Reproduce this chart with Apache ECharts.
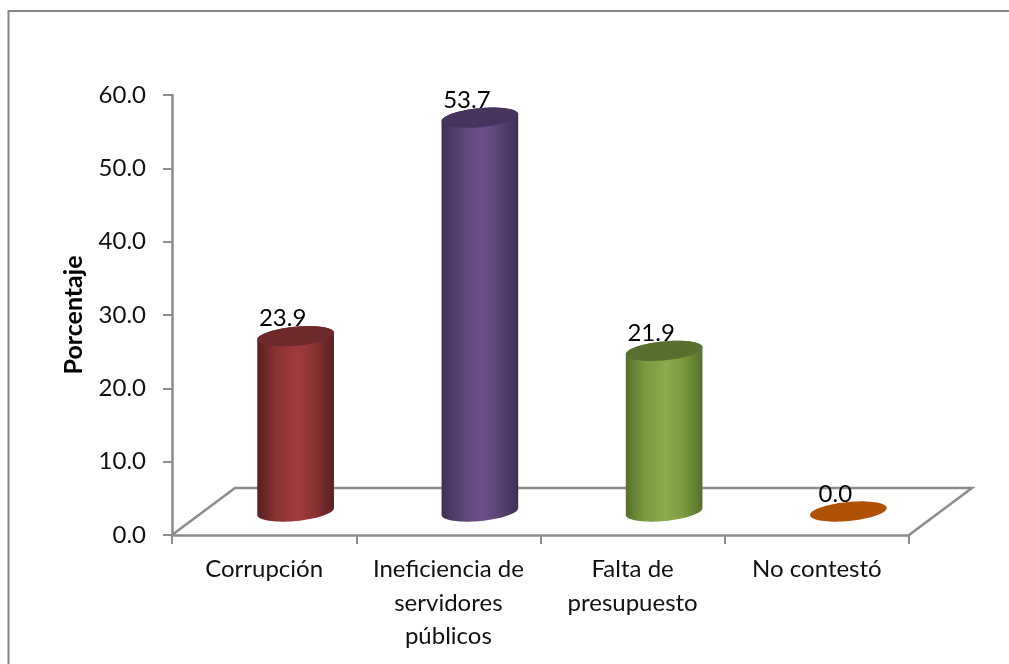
<!DOCTYPE html>
<html><head><meta charset="utf-8">
<style>html,body{margin:0;padding:0;background:#fff}#c{width:1009px;height:664px}</style>
<script src="https://cdn.jsdelivr.net/npm/echarts@6/dist/echarts.min.js"></script>
</head><body><div id="c"></div>
<script>
const categories = ['Corrupción', 'Ineficiencia de\nservidores\npúblicos', 'Falta de\npresupuesto', 'No contestó'];
const values = [23.9, 53.7, 21.9, 0.0];
const yMin = 0, yMax = 60, yStep = 10;
const axisName = 'Porcentaje';
const FONT = 'Lato';
const AXIS = '#8c8c8c';
const palette = [
  {edge:'#562020', side:'#8a3332', mid:'#a13b3a', top:'#6e2a2a'},
  {edge:'#3e2e55', side:'#5a4475', mid:'#6a5088', top:'#46345f'},
  {edge:'#55702a', side:'#7a9a3f', mid:'#8cab4c', top:'#586f2f'},
  {edge:'#b05206', side:'#b05206', mid:'#b05206', top:'#b05206'}
];
const depth = [63, -47];
const RX = 38.5, RY = 9.5, TILT = -5.5 * Math.PI / 180;
function ell(cx, cy, a0, a1, n) {
  const p = [], c = Math.cos(TILT), s = Math.sin(TILT);
  for (let i = 0; i <= n; i++) {
    const t = a0 + (a1 - a0) * i / n, x = RX * Math.cos(t), y = RY * Math.sin(t);
    p.push([cx + x * c - y * s, cy + x * s + y * c]);
  }
  return p;
}
const chart = echarts.init(document.getElementById('c'), null, {renderer: 'canvas'});
chart.setOption({
  animation: false,
  backgroundColor: '#fff',
  graphic: [{type: 'polyline', silent: true, z: 0, shape: {points: [[8.5, 664], [8.5, 11], [1009, 11]]},
    style: {stroke: '#868686', lineWidth: 2, fill: null}}],
  grid: {left: 172, top: 95, width: 737, height: 440, containLabel: false},
  xAxis: {type: 'category', data: categories, boundaryGap: true,
    axisLine: {lineStyle: {color: AXIS, width: 2.5}},
    axisTick: {show: true, length: 9, lineStyle: {color: AXIS, width: 2}},
    axisLabel: {color: '#111', fontFamily: FONT, fontSize: 24, lineHeight: 33.5, margin: 18, interval: 0}},
  yAxis: {type: 'value', min: yMin, max: yMax, interval: yStep,
    name: axisName, nameLocation: 'middle', nameGap: 86, nameRotate: 90,
    nameTextStyle: {color: '#000', fontFamily: FONT, fontWeight: 'bold', fontSize: 25},
    splitLine: {show: false},
    axisLine: {show: true, lineStyle: {color: AXIS, width: 2.5}},
    axisTick: {show: true, length: 9, lineStyle: {color: AXIS, width: 2}},
    axisLabel: {color: '#111', fontFamily: FONT, fontSize: 24, margin: 26, formatter: v => v.toFixed(1)}},
  series: [
    {type: 'custom', z: 1, silent: true, data: [0], encode: {x: 0},
     renderItem(params, api) {
       const band = api.size([1, 0])[0];
       const c0 = api.coord([0, yMin]);
       const o = [c0[0] - band / 2, c0[1]];
       const xs = band * categories.length;
       const a = [o[0], o[1]], b = [o[0] + depth[0], o[1] + depth[1]],
             c = [o[0] + xs + depth[0], o[1] + depth[1]], d = [o[0] + xs, o[1]];
       return {type: 'polyline', shape: {points: [a, b, c, d]},
         style: {stroke: AXIS, lineWidth: 2.5, fill: null}};
     }},
    {type: 'custom', z: 2, silent: true,
     data: values.map((v, i) => [i, v]),
     encode: {x: 0, y: 1},
     renderItem(params, api) {
       const i = api.value(0), v = api.value(1), col = palette[i];
       const base = api.coord([i, 0]), top = api.coord([i, v]);
       const dx = depth[0] / 2, dy = depth[1] / 2;
       const cx = base[0] + dx, by = base[1] + dy, ty = top[1] + dy;
       const children = [];
       if (v > 0) {
         const fill = new echarts.graphic.LinearGradient(cx - RX, 0, cx + RX, 0, [
           {offset: 0, color: col.edge}, {offset: 0.25, color: col.side},
           {offset: 0.52, color: col.mid}, {offset: 0.75, color: col.side}, {offset: 1, color: col.edge}], true);
         const pts = ell(cx, by, 0, Math.PI, 40).concat(ell(cx, ty, Math.PI, 2 * Math.PI, 40));
         children.push({type: 'polygon', shape: {points: pts}, style: {fill}});
       }
       children.push({type: 'polygon', shape: {points: ell(cx, ty, 0, 2 * Math.PI, 72)},
         style: {fill: col.top}});
       children.push({type: 'text', x: cx - 13, y: ty - 17.5,
         style: {text: v.toFixed(1), fill: '#000', font: '24px ' + FONT, textAlign: 'center', textVerticalAlign: 'middle'}});
       return {type: 'group', children};
     }}
  ]
});
</script></body></html>
